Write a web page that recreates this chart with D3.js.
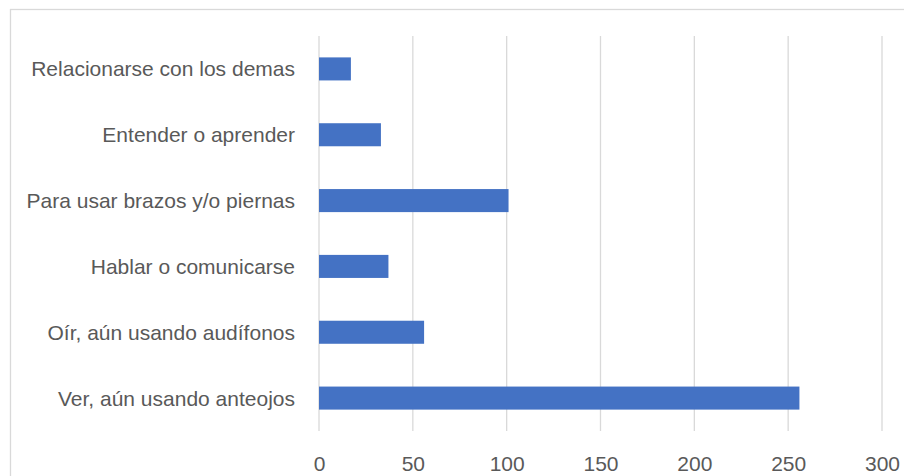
<!DOCTYPE html>
<html><head><meta charset="utf-8">
<script src="https://cdn.jsdelivr.net/npm/d3@7"></script>
<style>html,body{margin:0;padding:0;background:#fff;}svg{display:block;}</style>
</head><body>
<script>
const categories = ["Relacionarse con los demas","Entender o aprender","Para usar brazos y/o piernas","Hablar o comunicarse","Oír, aún usando audífonos","Ver, aún usando anteojos"];
const values = [17, 33, 101, 37, 56, 256];
const xTicks = [0, 50, 100, 150, 200, 250, 300];

const W = 904, H = 476;
const svg = d3.select("body").append("svg").attr("width", W).attr("height", H);
const font = "'Liberation Sans', Arial, sans-serif";

svg.append("rect").attr("x", 10.5).attr("y", 9.5).attr("width", W).attr("height", H)
  .attr("fill", "none").attr("stroke", "#d9d9d9").attr("stroke-width", 1.3);

const plot = {left: 319, right: 882, top: 36, bottom: 431};
const x = d3.scaleLinear().domain([0, 300]).range([plot.left, plot.right]);
const y = d3.scaleBand().domain(categories).range([plot.top, plot.bottom]).paddingInner(0.65).paddingOuter(0.325);

// gridlines
svg.append("g").selectAll("line").data(xTicks).join("line")
  .attr("x1", d => x(d)).attr("x2", d => x(d))
  .attr("y1", plot.top).attr("y2", plot.bottom)
  .attr("stroke", "#d9d9d9").attr("stroke-width", 1.3);

// bars
svg.append("g").selectAll("rect").data(values).join("rect")
  .attr("x", x(0)).attr("y", (d, i) => y(categories[i]))
  .attr("width", d => x(d) - x(0)).attr("height", y.bandwidth())
  .attr("fill", "#4472C4");

// x axis labels
const xAxis = d3.axisBottom(x).tickValues(xTicks).tickSize(0).tickPadding(0);
const gx = svg.append("g").attr("transform", `translate(0,${plot.bottom})`).call(xAxis);
gx.select(".domain").remove();
gx.selectAll("text").attr("font-family", font).attr("font-size", 21).attr("fill", "#595959")
  .attr("dy", null).attr("y", 39.5);

// y axis labels
const yAxis = d3.axisLeft(y).tickSize(0).tickPadding(24);
const gy = svg.append("g").attr("transform", `translate(${plot.left},0)`).call(yAxis);
gy.select(".domain").remove();
gy.selectAll("text").attr("font-family", font).attr("font-size", 21).attr("fill", "#595959")
  .attr("dy", "0.36em");
</script>
</body></html>
